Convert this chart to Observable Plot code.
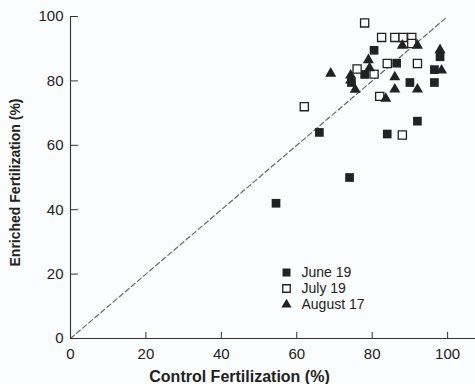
<!DOCTYPE html>
<html>
<head>
<meta charset="utf-8">
<script src="https://cdn.jsdelivr.net/npm/d3@7"></script>
<script src="https://cdn.jsdelivr.net/npm/@observablehq/plot@0.6"></script>
<style>
  html, body { margin: 0; padding: 0; background: #fafcfd; }
  #chart { width: 475px; height: 384px; }
</style>
</head>
<body>
<div id="chart"></div>
<script>
// Data: [control %, enriched %]
const june = [
  [54.5, 42], [74, 50], [66, 64], [84, 63.5], [92, 67.5], [74.5, 79.5],
  [78, 82], [80.5, 89.5], [86.5, 85.5], [90, 79.5], [96.5, 83.5],
  [96.5, 79.5], [98, 87.5]
];
const july = [
  [62, 72], [78, 98], [82.5, 93.5], [86, 93.5], [88.2, 93.5], [90.5, 93.5],
  [90.5, 91.6], [84, 85.4], [92, 85.4], [76, 83.7], [80.5, 82.1],
  [82, 75.2], [88, 63.2]
];
const aug = [
  [69, 82.3], [74.3, 81.7], [74.3, 80.2], [75.5, 77.3], [79, 86.5],
  [79.3, 84], [86, 81.2], [86, 77.4], [92, 77.4], [83.6, 74.5],
  [88, 91], [92, 91], [98, 89.6], [98.4, 83.3]
];
const legendLabels = ["June 19", "July 19", "August 17"];
const xTicks = [0, 20, 40, 60, 80, 100];
const yTicks = [0, 20, 40, 60, 80, 100];
const diagonal = [0, 100];
const xTitle = "Control Fertilization (%)";
const yTitle = "Enriched Fertilization (%)";

const ink = "#222";
const font = "'Liberation Sans', Arial, Helvetica, sans-serif";

const styles = [
  {symbol: "square", fill: ink, stroke: "none", r: 4.9},
  {symbol: "square", fill: "#ffffff", stroke: ink, r: 4.6},
  {symbol: "triangle", fill: ink, stroke: "none", r: 4.1}
];
const seriesData = [june, july, aug];

const marks = [
  Plot.axisX(xTicks, {tickSize: 0, tickPadding: 10, fontSize: 15, label: null}),
  Plot.axisY(yTicks, {tickSize: 0, tickPadding: 7, fontSize: 15, label: null}),
  Plot.line(diagonal, {x: d => d, y: d => d, stroke: "#6a6a6a", strokeWidth: 1.2, strokeDasharray: "5,3"}),
  Plot.ruleY([0], {stroke: "#333", strokeWidth: 1.1}),
  Plot.ruleX([0], {y1: 0, y2: 100, stroke: "#333", strokeWidth: 1.1}),
  Plot.ruleX(xTicks, {y1: 0, y2: 1.9, stroke: "#333"}),
  Plot.ruleY(yTicks, {x1: 0, x2: 2.1, stroke: "#333"})
];

seriesData.forEach((data, i) => {
  const s = styles[i];
  marks.push(Plot.dot(data, {
    x: d => d[0], y: d => d[1], symbol: s.symbol, r: s.r,
    fill: s.fill, stroke: s.stroke, strokeWidth: 1.3
  }));
  marks.push(Plot.dot([legendLabels[i]], {
    frameAnchor: "top-left", dx: 216, dy: 256 + i * 16,
    symbol: s.symbol, r: s.r * 0.92, fill: s.fill, stroke: s.stroke, strokeWidth: 1.3
  }));
  marks.push(Plot.text([legendLabels[i]], {
    text: d => d, frameAnchor: "top-left", dx: 231, dy: 256 + i * 16,
    textAnchor: "start", lineAnchor: "middle", fontSize: 14, fill: ink
  }));
});

marks.push(Plot.text([xTitle], {
  text: d => d, frameAnchor: "bottom-left", dx: 169, dy: 38,
  textAnchor: "middle", lineAnchor: "middle", fontSize: 16, fontWeight: "bold", fill: ink
}));
marks.push(Plot.text([yTitle], {
  text: d => d, frameAnchor: "left", dx: -55, dy: 5, rotate: -90,
  textAnchor: "middle", lineAnchor: "middle", fontSize: 14, fontWeight: "bold", fill: ink
}));

const chart = Plot.plot({
  width: 475,
  height: 384,
  marginLeft: 70,
  marginRight: 0,
  marginTop: 16,
  marginBottom: 46,
  x: {domain: [0, 107.4]},
  y: {domain: [0, 100]},
  style: {background: "transparent", fontFamily: font, color: ink, overflow: "visible"},
  marks
});
document.getElementById("chart").append(chart);
</script>
</body>
</html>
